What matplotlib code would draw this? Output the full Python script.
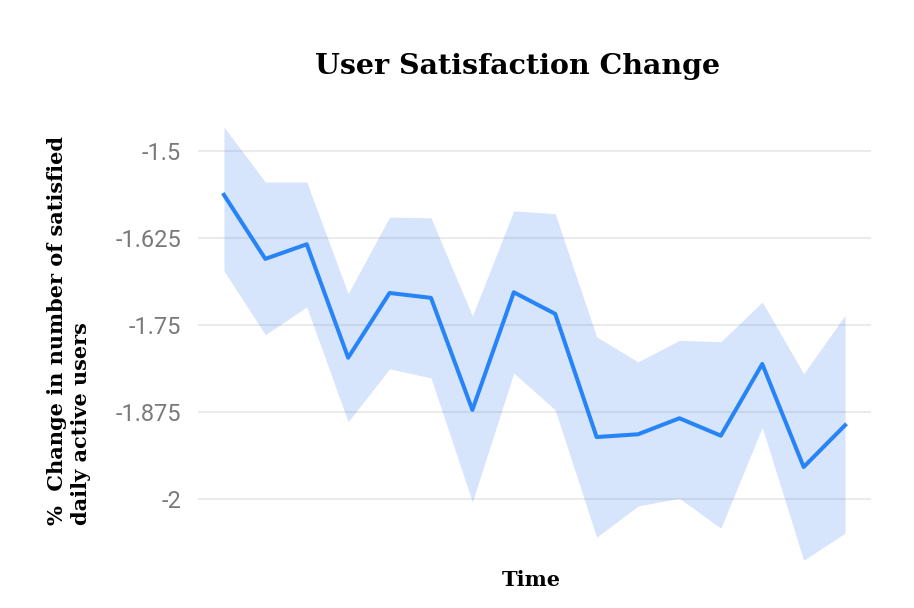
import matplotlib
matplotlib.use("Agg")
import matplotlib.pyplot as plt
import numpy as np

time_index = list(range(16))
mean_change = [-1.563, -1.655, -1.634, -1.797, -1.704, -1.711, -1.872, -1.703,
               -1.734, -1.911, -1.907, -1.884, -1.909, -1.806, -1.954, -1.894]
upper_bound = [-1.4655, -1.5445, -1.5445, -1.705, -1.595, -1.596, -1.737, -1.586,
               -1.590, -1.767, -1.803, -1.772, -1.774, -1.717, -1.820, -1.736]
lower_bound = [-1.672, -1.764, -1.724, -1.889, -1.813, -1.826, -2.004, -1.819,
               -1.872, -2.055, -2.010, -1.999, -2.042, -1.897, -2.088, -2.049]
y_ticks = [-1.5, -1.625, -1.75, -1.875, -2.0]
y_tick_labels = ["-1.5", "-1.625", "-1.75", "-1.875", "-2"]

W, H = 914, 608
fig = plt.figure(figsize=(W / 100, H / 100), dpi=100)

ymin, ymax = -2.1, -1.46
px_per_unit = 696.0
top_px = 151 - (ymax - (-1.5)) * px_per_unit
bot_px = 499 + (-2.0 - ymin) * px_per_unit
left_px, right_px = 198, 871
ax = fig.add_axes([left_px / W, 1 - bot_px / H, (right_px - left_px) / W, (bot_px - top_px) / H])

ax.fill_between(time_index, lower_bound, upper_bound, color="#4285f4", alpha=0.21,
                linewidth=0, zorder=2)
ax.plot(time_index, mean_change, color="#2684f8", linewidth=2.9, zorder=3)

ax.set_xlim(-0.626, 15.626)
ax.set_ylim(ymin, ymax)
ax.set_yticks(y_ticks)
ax.set_yticklabels(y_tick_labels, fontfamily="Roboto", fontsize=17, color="#7a7a7a")
ax.set_xticks([])
ax.tick_params(axis="y", length=0, pad=12)
ax.grid(axis="y", color="#ebebeb", linewidth=1.5, zorder=1)
ax.set_axisbelow(True)
for s in ax.spines.values():
    s.set_visible(False)

serif = ["DejaVu Serif"]
fig.text(518 / W, 1 - 66 / H, "User Satisfaction Change", ha="center", va="center",
         fontfamily=serif, fontweight="bold", fontsize=20.5)
fig.text(531 / W, 1 - 580 / H, "Time", ha="center", va="center",
         fontfamily=serif, fontweight="bold", fontsize=15)
fig.text(69 / W, 1 - 525 / H, "%  Change in number of satisfied\ndaily active users",
         ha="center", va="bottom", rotation=90, multialignment="left",
         fontfamily=serif, fontweight="bold", fontsize=15, linespacing=1.25)

fig.savefig("out.png", dpi=100)
